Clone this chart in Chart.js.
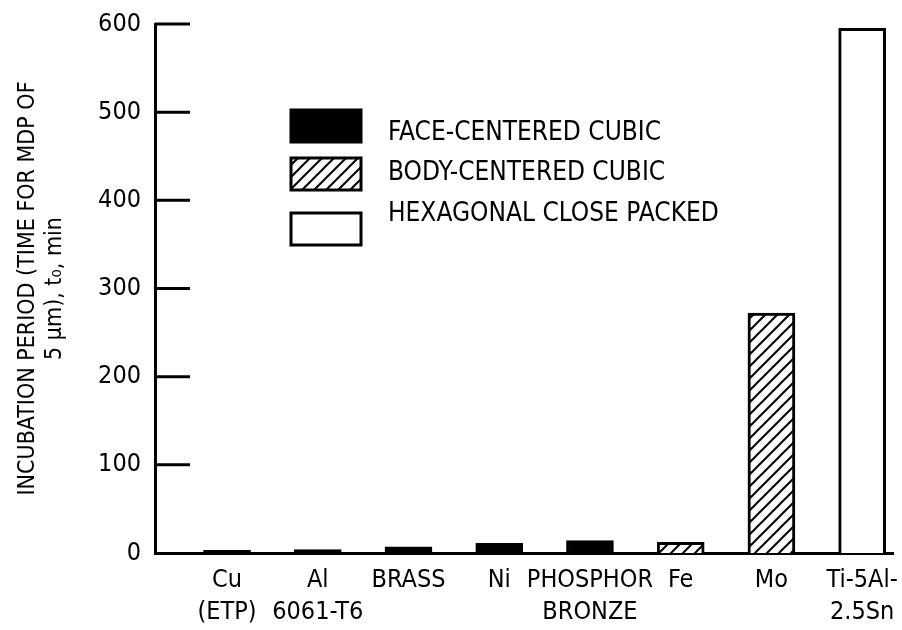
<!DOCTYPE html>
<html>
<head>
<meta charset="utf-8">
<script src="https://cdn.jsdelivr.net/npm/chart.js@4"></script>
<style>
  html, body { margin: 0; padding: 0; background: #fff; }
  #wrap { width: 902px; height: 630px; }
</style>
</head>
<body>
<div id="wrap"><canvas id="incubacion"></canvas></div>
<script>
// datos
var materiales = [['Cu', '(ETP)'], ['Al', '6061-T6'], ['BRASS'], ['Ni'], ['PHOSPHOR', 'BRONZE'], ['Fe'], ['Mo'], ['Ti-5Al-', '2.5Sn']];
var periodos   = [3, 4, 7, 11, 14, 12, 272, 595];
var estructura = ['fcc', 'fcc', 'fcc', 'fcc', 'fcc', 'bcc', 'bcc', 'hcp'];
var estructuras = ['fcc', 'bcc', 'hcp'];
var nombresEstructura = ['FACE-CENTERED CUBIC', 'BODY-CENTERED CUBIC', 'HEXAGONAL CLOSE PACKED'];
var yTicks = [0, 100, 200, 300, 400, 500, 600];

var fuente = "'Liberation Sans Narrow', 'DejaVu Sans Condensed', sans-serif";

function rayado() {
  var c = document.createElement('canvas');
  c.width = 12; c.height = 12;
  var g = c.getContext('2d');
  g.fillStyle = '#fff';
  g.fillRect(0, 0, 12, 12);
  g.strokeStyle = '#000';
  g.lineWidth = 2;
  g.beginPath();
  g.moveTo(0, 12); g.lineTo(12, 0);
  g.moveTo(-3, 3); g.lineTo(3, -3);
  g.moveTo(9, 15); g.lineTo(15, 9);
  g.stroke();
  return g.createPattern(c, 'repeat');
}

var rellenos = { fcc: '#000', bcc: rayado(), hcp: '#fff' };

var datasets = estructuras.map(function(e, k) {
  var pts = [];
  periodos.forEach(function(v, i) {
    if (estructura[i] === e) pts.push({ x: i + 1, y: v });
  });
  return {
    label: nombresEstructura[k],
    data: pts,
    backgroundColor: rellenos[e],
    borderColor: '#000',
    borderWidth: 3,
    borderSkipped: 'bottom',
    barThickness: 47,
    grouped: false
  };
});

// ticks hacia adentro del eje y
var marcasY = {
  id: 'marcasY',
  afterDatasetsDraw: function(chart) {
    var ctx = chart.ctx, y = chart.scales.y, a = chart.chartArea;
    ctx.save();
    ctx.strokeStyle = '#000';
    ctx.lineWidth = 3;
    yTicks.forEach(function(t) {
      if (t === 0) return;
      var py = y.getPixelForValue(t);
      ctx.beginPath();
      ctx.moveTo(a.left, py);
      ctx.lineTo(a.left + 35, py);
      ctx.stroke();
    });
    ctx.restore();
  }
};

// leyenda dentro del grafico
var leyenda = {
  id: 'leyenda',
  afterDraw: function(chart) {
    var ctx = chart.ctx;
    var cajas = [110, 158, 213];
    var textos = [133, 173, 214];
    ctx.save();
    chart.data.datasets.forEach(function(ds, i) {
      ctx.fillStyle = ds.backgroundColor;
      ctx.fillRect(291, cajas[i], 70, 32);
      ctx.strokeStyle = '#000';
      ctx.lineWidth = 3;
      ctx.strokeRect(291, cajas[i], 70, 32);
      ctx.fillStyle = '#000';
      ctx.font = '26px ' + fuente;
      ctx.textBaseline = 'middle';
      ctx.fillText(ds.label, 388, textos[i]);
    });
    ctx.restore();
  }
};

new Chart(document.getElementById('incubacion'), {
  type: 'bar',
  data: { datasets: datasets },
  options: {
    responsive: true,
    maintainAspectRatio: false,
    animation: false,
    layout: { padding: { top: 23, right: 9, left: 0, bottom: 0 } },
    plugins: {
      legend: { display: false },
      tooltip: { enabled: false }
    },
    scales: {
      x: {
        type: 'linear',
        offset: false,
        min: 0.206,
        max: 8.34,
        afterFit: function(s) { s.height = 77; s.paddingLeft = 0; s.paddingRight = 0; },
        afterBuildTicks: function(s) {
          s.ticks = materiales.map(function(m, i) { return { value: i + 1 }; });
        },
        grid: { display: false, drawTicks: false, offset: false },
        border: { display: true, color: '#000', width: 3 },
        ticks: {
          autoSkip: false,
          maxRotation: 0,
          padding: 11,
          color: '#000',
          font: { family: fuente, size: 25, lineHeight: 1.3 },
          callback: function(v) { return materiales[v - 1] || ''; }
        }
      },
      y: {
        min: 0,
        max: 600,
        afterFit: function(s) { s.width = 155; },
        afterBuildTicks: function(s) {
          s.ticks = yTicks.map(function(t) { return { value: t }; });
        },
        grid: { display: false, drawTicks: false },
        border: { display: true, color: '#000', width: 3 },
        ticks: {
          padding: 14,
          color: '#000',
          font: { family: fuente, size: 25, lineHeight: 0.8 }
        },
        title: {
          display: true,
          text: ['INCUBATION PERIOD (TIME FOR MDP OF', '5 \u00b5m), t\u2080, min'],
          color: '#000',
          padding: { top: 14, bottom: 0 },
          font: { family: fuente, size: 23, lineHeight: 1.2 }
        }
      }
    }
  },
  plugins: [marcasY, leyenda]
});
</script>
</body>
</html>
